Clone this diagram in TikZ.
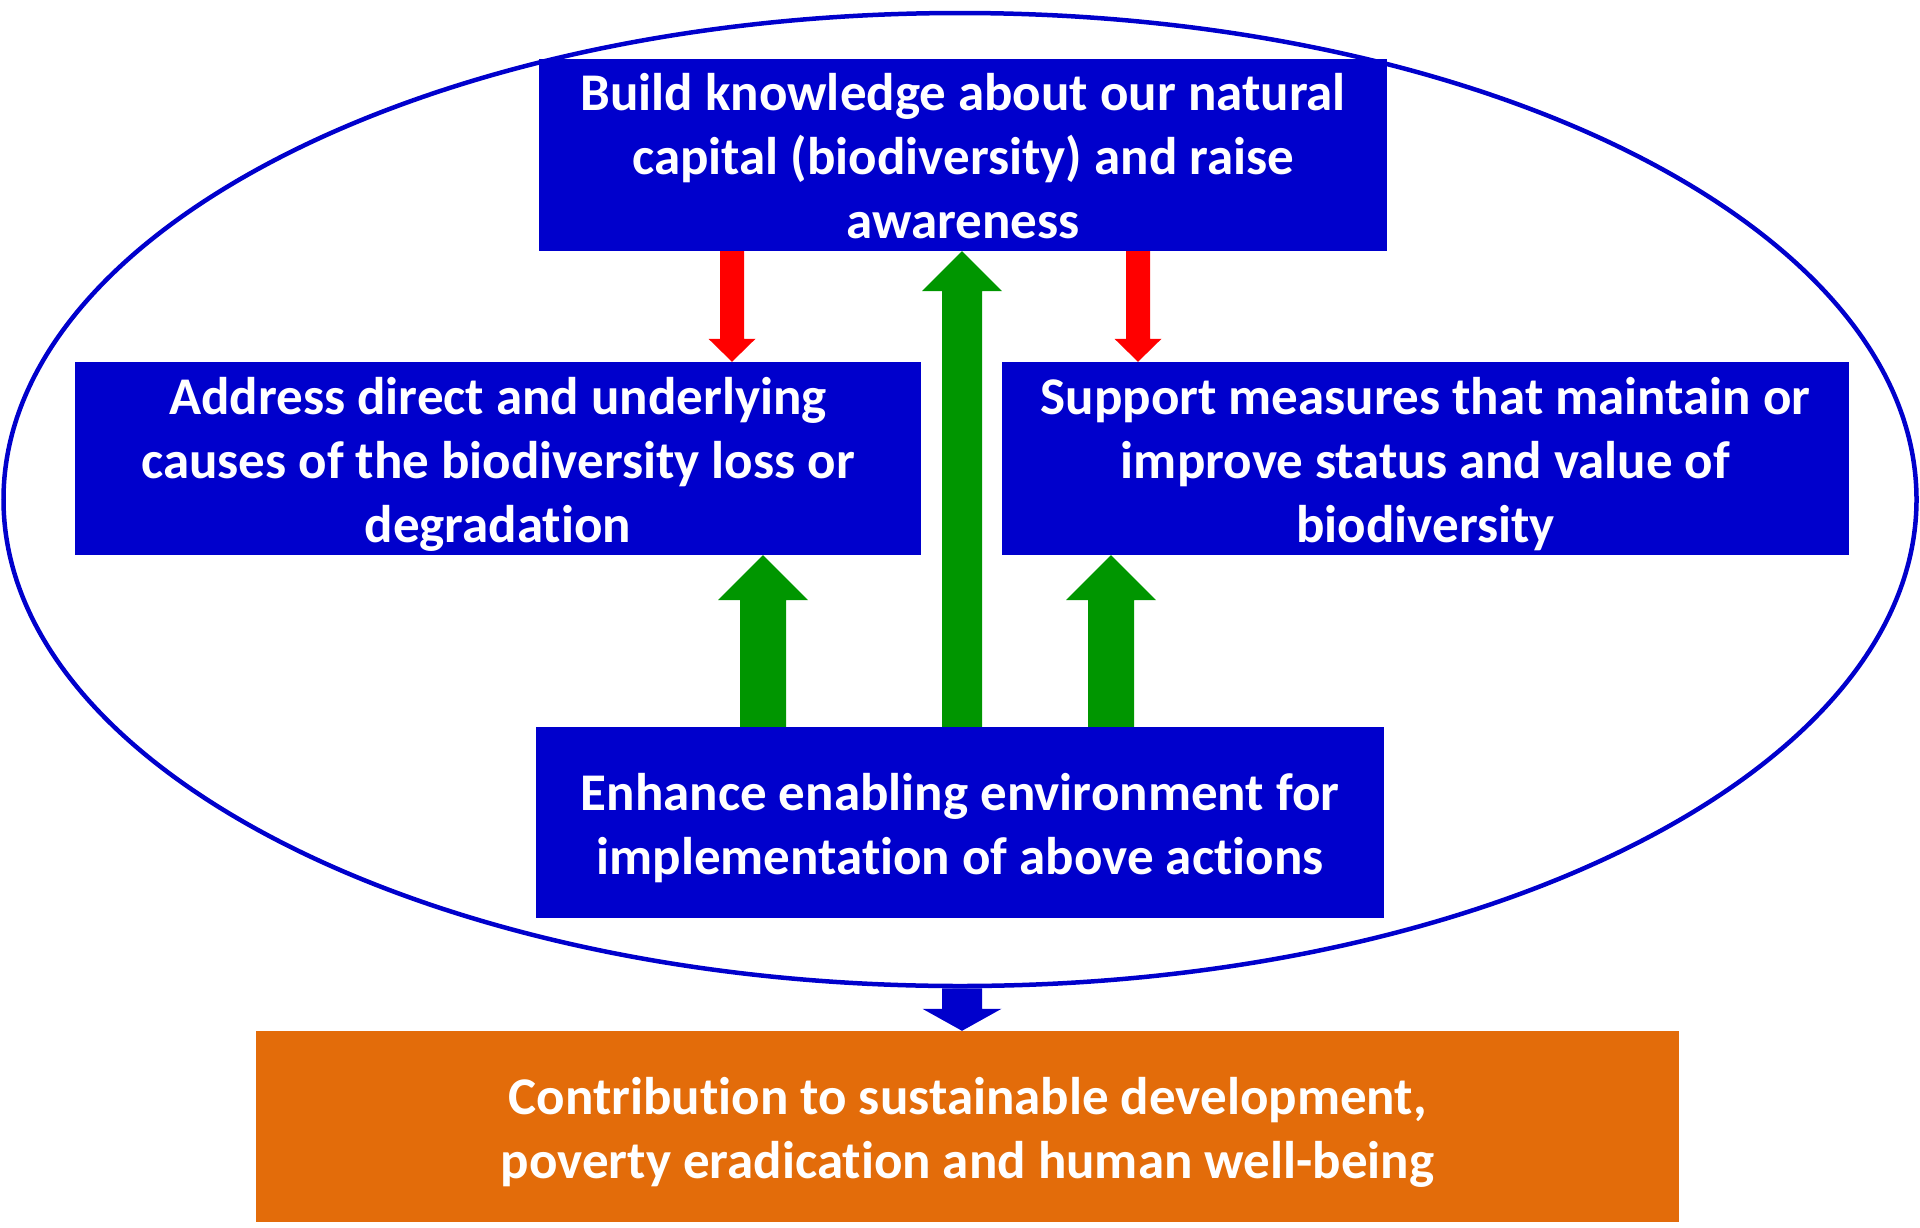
\documentclass[tikz,border=0pt]{standalone}
\usepackage{fontspec}
\setmainfont{Carlito}[RawFeature={-liga}]
\usetikzlibrary{shapes.geometric,calc}
\definecolor{boxblue}{RGB}{0,0,204}
\definecolor{arrgreen}{RGB}{0,150,0}
\definecolor{arrred}{RGB}{255,0,0}
\definecolor{outorange}{RGB}{227,108,10}
% #1 colour, #2 x, #3 from anchor, #4 to anchor (tip), #5 half shaft, #6 half head, #7 signed head length
\newcommand\fatarrow[7]{%
  \fill[#1] let \p1=(#3), \p2=(#4) in
    ({#2pt-#5pt},{\y1}) -- ({#2pt+#5pt},{\y1}) -- ({#2pt+#5pt},{\y2-(#7pt)}) -- ({#2pt+#6pt},{\y2-(#7pt)})
    -- ({#2pt},{\y2}) -- ({#2pt-#6pt},{\y2-(#7pt)}) -- ({#2pt-#5pt},{\y2-(#7pt)}) -- cycle;}
\begin{document}
\begin{tikzpicture}[x=1pt,y=-1pt,
  box/.style={fill=boxblue, inner sep=0pt},
  outbox/.style={box, fill=outorange},
  boxtext/.style={text=white, align=center, inner sep=0pt,
    font=\fontsize{53}{64}\selectfont\bfseries}]
\useasboundingbox (0,0) rectangle (1920,1227);
\node[draw=boxblue, line width=4.5pt, ellipse, inner sep=0pt, minimum width=1913pt, minimum height=973pt] (oval) at (960,499.5) {};
\node[box, minimum width=848pt, minimum height=192pt] (top) at (963,155) {};
\node[boxtext] (toptext) at (963,156.5) {Build knowledge about our natural\\capital (biodiversity) and raise\\awareness};
\node[box, minimum width=846pt, minimum height=193pt] (left) at (498,458.5) {};
\node[boxtext] (lefttext) at (498,464) {Address direct and underlying\\causes of the biodiversity loss or\\degradation};
\node[box, minimum width=847pt, minimum height=193pt] (right) at (1425.5,458.5) {};
\node[boxtext] (righttext) at (1425.5,464) {Support measures that maintain or\\improve status and value of\\biodiversity};
\node[box, minimum width=848pt, minimum height=191pt] (bottom) at (960,822.5) {};
\node[boxtext] (bottomtext) at (960,828.5) {Enhance enabling environment for\\implementation of above actions};
\node[outbox, minimum width=1423pt, minimum height=191pt] (goal) at (967.5,1126.5) {};
\node[boxtext] (goaltext) at (967.5,1132.5) {Contribution to sustainable development,\\poverty eradication and human well-being};
\fatarrow{arrred}{732}{top.south}{left.north}{12}{23.5}{-23}
\fatarrow{arrred}{1138}{top.south}{right.north}{12}{23.5}{-23}
\fatarrow{arrgreen}{962}{bottom.north}{top.south}{20}{40}{40}
\fatarrow{arrgreen}{763}{bottom.north}{left.south}{23}{45}{45}
\fatarrow{arrgreen}{1111}{bottom.north}{right.south}{23}{45}{45}
\fatarrow{boxblue}{962}{oval.south}{goal.north}{20}{39.5}{-22}
\end{tikzpicture}
\end{document}
